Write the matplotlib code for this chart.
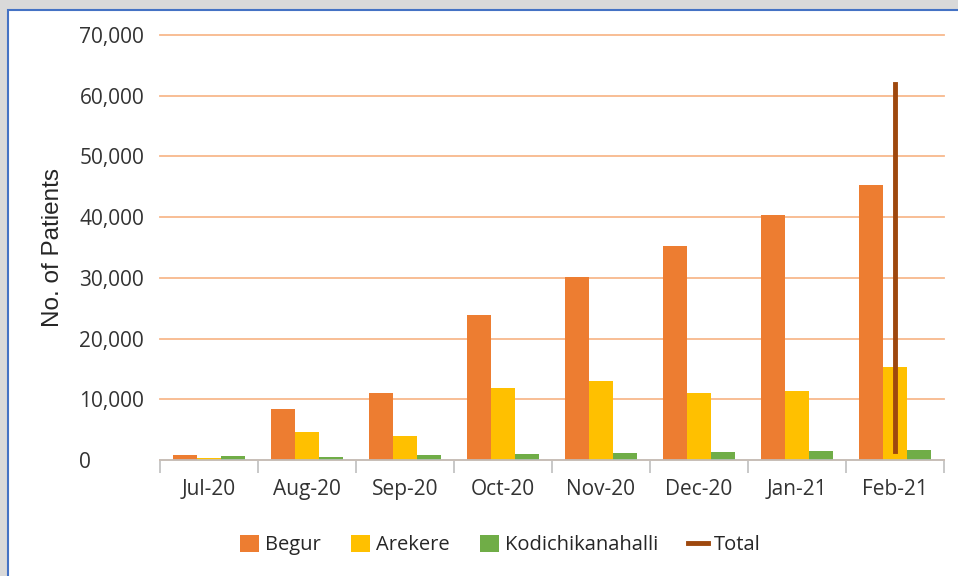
import numpy as np
import matplotlib
matplotlib.use("Agg")
from matplotlib import pyplot as plt
from matplotlib.patches import Rectangle
from matplotlib.ticker import FuncFormatter, FixedLocator

plt.rcParams['font.family'] = ['Open Sans', 'DejaVu Sans']

months = ['Jul-20', 'Aug-20', 'Sep-20', 'Oct-20', 'Nov-20', 'Dec-20', 'Jan-21', 'Feb-21']
begur = [770, 8400, 11100, 23900, 30100, 35250, 40350, 45300]
arekere = [300, 4550, 4000, 11900, 13000, 11000, 11350, 15400]
kodichikanahalli = [660, 500, 770, 1040, 1150, 1300, 1480, 1650]
# total series: every point sits on the last category in the source chart
total = [1500, 13200, 15900, 36400, 44200, 47000, 52700, 61900]

fig = plt.figure(figsize=(9.58, 5.76), dpi=100)
fig.patch.set_facecolor('#d9d9d9')
fig.patches.append(Rectangle((8 / 958, -0.01), 1.0, (576 - 10) / 576 + 0.01,
                             transform=fig.transFigure, facecolor='white',
                             edgecolor='#4472c4', linewidth=1.5, zorder=-10))

ax = fig.add_axes([160 / 958, 1 - 460 / 576, (944 - 160) / 958, (460 - 35) / 576])
ax.set_facecolor('none')
ax.set_zorder(5)

x = np.arange(len(months))
w = 0.245
ax.bar(x - w, begur, w, color='#ed7d31', label='Begur', zorder=2)
ax.bar(x, arekere, w, color='#ffc000', label='Arekere', zorder=2)
ax.bar(x + w, kodichikanahalli, w, color='#70ad47', label='Kodichikanahalli', zorder=2)
ax.plot([x[-1]] * len(total), total, color='#9e480e', linewidth=3.5, label='Total', zorder=3)

ax.set_xlim(-0.5, len(months) - 0.5)
ax.set_ylim(0, 70000)
ax.set_yticks(np.arange(0, 70001, 10000))
ax.yaxis.set_major_formatter(FuncFormatter(lambda v, p: f'{int(v):,}'))
ax.grid(axis='y', color='#f8b98c', linewidth=1.3, zorder=1)
for gl in ax.get_ygridlines():
    gl.set_clip_on(False)
ax.tick_params(axis='y', length=0, labelsize=15, labelcolor='#333333', pad=58)
for lbl in ax.get_yticklabels():
    lbl.set_horizontalalignment('left')

ax.set_xticks(x)
ax.set_xticklabels(months)
ax.xaxis.set_minor_locator(FixedLocator(np.arange(-0.5, len(months), 1.0)))
ax.tick_params(axis='x', which='major', length=0, labelsize=15, labelcolor='#333333', pad=14)
ax.tick_params(axis='x', which='minor', length=9, color='#bfbfbf', width=1.2)

for s in ['top', 'right', 'left']:
    ax.spines[s].set_visible(False)
ax.spines['bottom'].set_color('#bfbfbf')
ax.spines['bottom'].set_linewidth(1.2)

ax.set_ylabel('No. of Patients', fontsize=17.5, color='#262626',
              family=['Liberation Sans', 'DejaVu Sans'])
ax.yaxis.set_label_coords(-0.123, 0.5)

handles, labels = ax.get_legend_handles_labels()
order = [1, 2, 3, 0]
fig.legend([handles[i] for i in order], [labels[i] for i in order],
           loc='center', bbox_to_anchor=(500 / 958, 1 - 545 / 576), ncol=4,
           frameon=False, fontsize=14.5, handlelength=0.95, handleheight=0.9,
           columnspacing=1.5, handletextpad=0.3, labelcolor='#262626')

fig.savefig('out.png', dpi=100, facecolor=fig.get_facecolor())
